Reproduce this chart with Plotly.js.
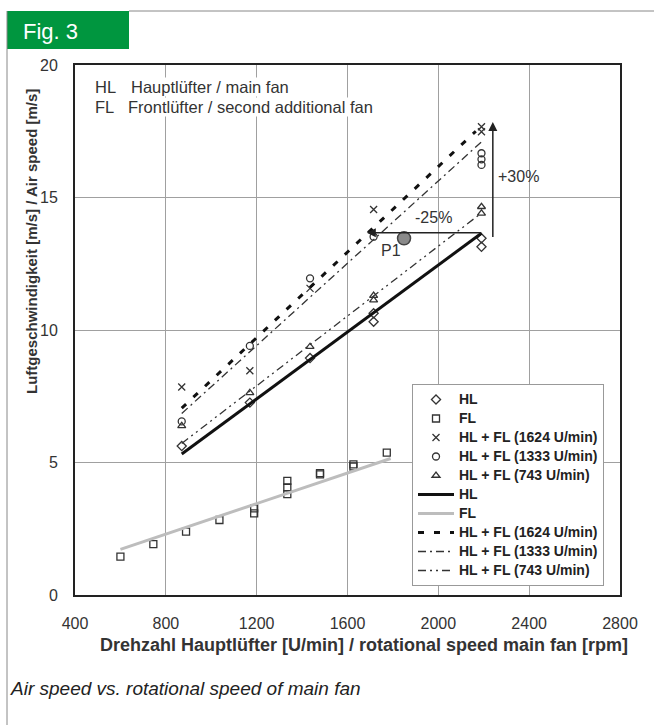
<!DOCTYPE html>
<html>
<head>
<meta charset="utf-8">
<script src="https://cdn.plot.ly/plotly-3.0.1.min.js"></script>
<style>html,body{margin:0;padding:0;background:#fff;}#chart{width:654px;height:725px;}</style>
</head>
<body>
<div id="chart"></div>
<script>
// ---- data ----
const hlRpm = [870, 1170, 1435, 1715, 1715, 2190, 2190];
const hlSpeed = [5.62, 7.26, 8.94, 10.63, 10.31, 13.46, 13.14];

const flRpm = [600, 745, 889, 1036, 1189, 1189, 1335, 1335, 1335, 1479, 1479, 1626, 1626, 1773];
const flSpeed = [1.45, 1.92, 2.39, 2.83, 3.27, 3.08, 4.31, 4.06, 3.81, 4.60, 4.55, 4.93, 4.85, 5.37];

const fl1624Rpm = [870, 1170, 1435, 1715, 2190, 2190];
const fl1624Speed = [7.85, 8.46, 11.57, 14.55, 17.67, 17.48];

const fl1333Rpm = [870, 1170, 1435, 1715, 2190, 2190, 2190];
const fl1333Speed = [6.55, 9.40, 11.95, 13.52, 16.67, 16.44, 16.23];

const fl743Rpm = [870, 1170, 1435, 1715, 1715, 2190, 2190];
const fl743Speed = [6.38, 7.63, 9.37, 11.13, 11.30, 14.65, 14.40];

// fitted lines (end points)
const hlFitRpm = [870, 2190];   const hlFitSpeed = [5.32, 13.65];
const flFitRpm = [600, 1790];   const flFitSpeed = [1.72, 5.15];
const f1624FitRpm = [870, 2165]; const f1624FitSpeed = [7.05, 17.50];
const f1333FitRpm = [870, 2190]; const f1333FitSpeed = [6.85, 17.10];
const f743FitRpm = [870, 2180];  const f743FitSpeed = [5.72, 14.35];

// operating point P1
const p1Rpm = [1849]; const p1Speed = [13.46];

const xTicks = [400, 800, 1200, 1600, 2000, 2400, 2800];
const yTicks = [0, 5, 10, 15, 20];

const labels = ['HL', 'FL', 'HL + FL (1624 U/min)', 'HL + FL (1333 U/min)', 'HL + FL (743 U/min)'];
const leg = (s) => '<span style="font-size:14px">' + s + '</span>';

// ---- traces ----
const mk = (sym) => ({symbol: sym, size: 7, color: '#333', line: {color: '#333', width: 1.3}});
const traces = [
  {x: hlRpm, y: hlSpeed, mode: 'markers', name: leg(labels[0]), marker: mk('diamond-open')},
  {x: flRpm, y: flSpeed, mode: 'markers', name: leg(labels[1]), marker: mk('square-open')},
  {x: fl1624Rpm, y: fl1624Speed, mode: 'markers', name: leg(labels[2]), marker: mk('x-thin-open')},
  {x: fl1333Rpm, y: fl1333Speed, mode: 'markers', name: leg(labels[3]), marker: mk('circle-open')},
  {x: fl743Rpm, y: fl743Speed, mode: 'markers', name: leg(labels[4]), marker: mk('triangle-up-open')},
  {x: hlFitRpm, y: hlFitSpeed, mode: 'lines', name: leg(labels[0]), line: {color: '#111', width: 3}},
  {x: flFitRpm, y: flFitSpeed, mode: 'lines', name: leg(labels[1]), line: {color: '#bdbdbd', width: 3}},
  {x: f1624FitRpm, y: f1624FitSpeed, mode: 'lines', name: leg(labels[2]), line: {color: '#111', width: 3, dash: '6px,10px'}},
  {x: f1333FitRpm, y: f1333FitSpeed, mode: 'lines', name: leg(labels[3]), line: {color: '#333', width: 1.3, dash: '8px,4px,2px,4px'}},
  {x: f743FitRpm, y: f743FitSpeed, mode: 'lines', name: leg(labels[4]), line: {color: '#333', width: 1.3, dash: '8px,4px,2px,4px,2px,4px'}},
  {x: p1Rpm, y: p1Speed, mode: 'markers', showlegend: false, name: 'P1',
   marker: {size: 13, color: '#8a8a8a', line: {color: '#444', width: 1.5}}}
];

// pixel helpers for paper coords (plot area 75..620 x, 65..595 y)
const px = (v) => (v - 75) / 545;
const py = (v) => (595 - v) / 530;

const layout = {
  width: 654, height: 725,
  margin: {l: 75, r: 34, t: 65, b: 130},
  paper_bgcolor: '#fff', plot_bgcolor: '#fff',
  font: {family: 'Arial, Liberation Sans, sans-serif', color: '#333', size: 16},
  xaxis: {
    range: [400, 2800], tickvals: xTicks, ticktext: xTicks.map(String),
    showgrid: true, gridcolor: '#a0a0a0', gridwidth: 1,
    showline: true, linecolor: '#222', linewidth: 2, mirror: true,
    ticks: 'outside', ticklen: 13, tickcolor: 'rgba(0,0,0,0)',
    zeroline: false, tickfont: {size: 16, color: '#333'}
  },
  yaxis: {
    range: [0, 20], tickvals: yTicks, ticktext: yTicks.map(String),
    showgrid: true, gridcolor: '#a0a0a0', gridwidth: 1,
    showline: true, linecolor: '#222', linewidth: 2, mirror: true,
    ticks: 'outside', ticklen: 12, tickcolor: 'rgba(0,0,0,0)',
    zeroline: false, tickfont: {size: 16, color: '#333'}
  },
  legend: {
    x: px(412), y: py(586), xanchor: 'left', yanchor: 'bottom',
    bgcolor: '#fff', bordercolor: '#999', borderwidth: 1,
    font: {size: 12, color: '#222', weight: 'bold', family: 'Arial, Liberation Sans, sans-serif'},
    tracegroupgap: 0, itemwidth: 36
  },
  shapes: [
    {type: 'rect', xref: 'paper', yref: 'paper', x0: px(7), x1: px(129), y0: py(49), y1: py(11),
     fillcolor: '#00963f', line: {width: 0}, layer: 'above'},
    {type: 'line', xref: 'paper', yref: 'paper', x0: px(129), x1: px(660), y0: py(11), y1: py(11),
     line: {color: '#888', width: 1}},
    {type: 'line', xref: 'paper', yref: 'paper', x0: px(7), x1: px(7), y0: py(11), y1: py(730),
     line: {color: '#888', width: 1}}
  ],
  annotations: [
    {xref: 'paper', yref: 'paper', x: px(21), y: py(31), xanchor: 'left', yanchor: 'middle',
     text: 'Fig. 3', showarrow: false, font: {size: 22, color: '#fff', family: 'Arial, Liberation Sans, sans-serif'}},
    {xref: 'paper', yref: 'paper', x: px(94), y: py(87), xanchor: 'left', yanchor: 'middle',
     text: 'HL', showarrow: false, bgcolor: '#fff', borderpad: 0, font: {size: 16.5, color: '#333'}},
    {xref: 'paper', yref: 'paper', x: px(130), y: py(87), xanchor: 'left', yanchor: 'middle',
     text: 'Hauptlüfter / main fan', showarrow: false, bgcolor: '#fff', borderpad: 0, font: {size: 16.5, color: '#333'}},
    {xref: 'paper', yref: 'paper', x: px(94), y: py(107), xanchor: 'left', yanchor: 'middle',
     text: 'FL', showarrow: false, bgcolor: '#fff', borderpad: 0, font: {size: 16.5, color: '#333'}},
    {xref: 'paper', yref: 'paper', x: px(127), y: py(107), xanchor: 'left', yanchor: 'middle',
     text: 'Frontlüfter / second additional fan', showarrow: false, bgcolor: '#fff', borderpad: 0, font: {size: 16.5, color: '#333'}},
    // y title
    {xref: 'paper', yref: 'paper', x: px(31), y: py(242), xanchor: 'center', yanchor: 'middle', textangle: -90,
     text: '<b>Luftgeschwindigkeit [m/s] / Air speed [m/s]</b>', showarrow: false, font: {size: 15, color: '#333'}},
    // x title
    {xref: 'paper', yref: 'paper', x: px(364), y: py(645), xanchor: 'center', yanchor: 'middle',
     text: '<b>Drehzahl Hauptlüfter [U/min] / rotational speed main fan [rpm]</b>', showarrow: false, font: {size: 18, color: '#333'}},
    // caption
    {xref: 'paper', yref: 'paper', x: px(8), y: py(688), xanchor: 'left', yanchor: 'middle',
     text: '<i>Air speed vs. rotational speed of main fan</i>', showarrow: false, font: {size: 19, color: '#222'}},
    // arrows
    {x: 2240, y: 17.85, ax: 2240, ay: 13.45, xref: 'x', yref: 'y', axref: 'x', ayref: 'y',
     text: '', showarrow: true, arrowhead: 2, arrowsize: 1.2, arrowwidth: 1.5, arrowcolor: '#222'},
    {x: 1685, y: 13.67, ax: 2196, ay: 13.67, xref: 'x', yref: 'y', axref: 'x', ayref: 'y',
     text: '', showarrow: true, arrowhead: 2, arrowsize: 1.2, arrowwidth: 1.5, arrowcolor: '#222'},
    {x: 2355, y: 15.8, xref: 'x', yref: 'y', text: '+30%', showarrow: false, font: {size: 16, color: '#333'}},
    {x: 1978, y: 14.25, xref: 'x', yref: 'y', text: '-25%', showarrow: false, font: {size: 16, color: '#333'}},
    {x: 1790, y: 13.0, xref: 'x', yref: 'y', text: 'P1', showarrow: false, font: {size: 16, color: '#333'}}
  ]
};

Plotly.newPlot('chart', traces, layout, {displayModeBar: false, staticPlot: true});
</script>
</body>
</html>
